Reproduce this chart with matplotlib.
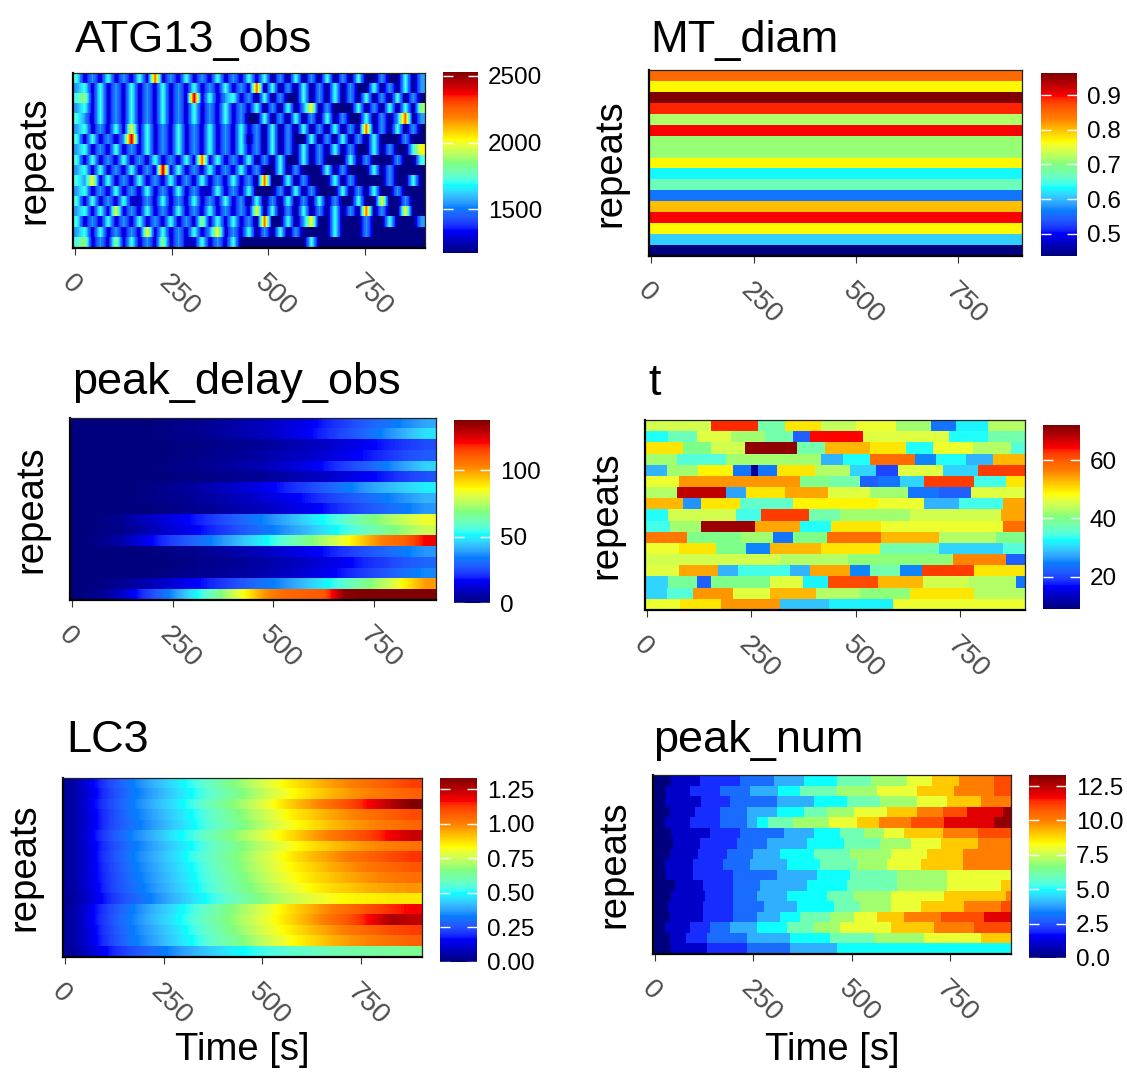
import numpy as np
import matplotlib
matplotlib.use("Agg")
import matplotlib.pyplot as plt
from matplotlib.colors import ListedColormap, Normalize, to_rgb
from matplotlib.cm import ScalarMappable

plt.rcParams['font.family'] = ['Liberation Sans', 'DejaVu Sans']

# ---------------- data (rows listed top to bottom, 17 repeats) ----------------
T_START, T_END = -5, 905          # time range shown on the x axis [s]
time_ticks = [0, 250, 500, 750]

# ATG13_obs: level code per 20 s bin, code -> intensity
atg13_levels = {'0': 1180, '1': 1270, '2': 1550, '3': 1720, '4': 1880,
                '5': 2020, '6': 2250, '7': 2450}
atg13_rows = [
    "31213 12131 61213 12131 21313 02030 20302 03002 00302",
    "23131 21312 13121 31213 12160 30203 02030 20030 20302",
    "34131 21312 13121 71312 31203 02003 02030 20302 03020",
    "23131 21312 13121 31213 12130 20302 50200 03020 30304",
    "32131 21312 13121 31213 12003 02030 20302 00302 02602",
    "23121 31513 12131 21312 13120 30203 02030 20602 03020",
    "31312 12713 12131 21312 13020 30200 30203 02030 00200",
    "23121 31213 12131 21312 13120 30203 02030 20030 20035",
    "31312 13121 31213 16131 21302 03003 02000 30200 02003",
    "23131 21312 17131 21312 13120 03020 00302 00030 20000",
    "32513 12131 21312 13121 31206 00302 00030 20000 20030",
    "23121 31213 12131 21131 21300 02030 20003 02030 02000",
    "31312 13112 13121 31213 12030 20302 03020 03005 00200",
    "23131 51213 12131 21312 12150 30203 02030 20602 00500",
    "31213 12131 21312 14131 31206 00302 50030 00200 30002",
    "23131 21215 13121 31251 21302 03020 00030 00200 00000",
    "34121 41312 14121 13121 30000 00000 30000 00000 00000",
]

# MT_diam: one value per repeat
mt_diam = [0.85, 0.77, 0.964, 0.89, 0.72, 0.90, 0.71, 0.71, 0.77,
           0.63, 0.67, 0.56, 0.80, 0.90, 0.77, 0.61, 0.436]

# peak_delay_obs: values at t = 25, 75, ..., 875 s
peak_delay = [
    [0, 0, 0, 0, 1, 2, 3, 5, 7, 9, 12, 15, 19, 23, 28, 32, 36, 40],
    [0, 0, 0, 0, 1, 2, 3, 5, 7, 9, 12, 16, 20, 25, 30, 36, 42, 48],
    [0, 0, 0, 0, 0, 1, 1, 2, 3, 4, 6, 8, 10, 13, 16, 19, 22, 25],
    [0, 0, 0, 0, 0, 1, 2, 3, 4, 6, 8, 10, 12, 15, 18, 21, 25, 28],
    [0, 0, 0, 0, 1, 2, 3, 4, 6, 8, 11, 14, 18, 23, 28, 34, 40, 46],
    [0, 0, 0, 0, 0, 1, 1, 2, 3, 4, 6, 8, 10, 13, 16, 19, 23, 26],
    [0, 0, 0, 1, 2, 4, 6, 9, 12, 15, 19, 23, 28, 33, 38, 42, 46, 50],
    [0, 0, 0, 1, 2, 3, 5, 7, 9, 12, 15, 18, 22, 26, 30, 34, 38, 42],
    [0, 0, 0, 0, 1, 2, 3, 5, 7, 9, 12, 15, 18, 22, 26, 30, 34, 38],
    [0, 1, 3, 8, 12, 16, 20, 25, 30, 35, 40, 46, 52, 58, 66, 72, 78, 84],
    [0, 1, 2, 6, 10, 14, 18, 22, 27, 32, 37, 42, 48, 54, 60, 66, 72, 78],
    [0, 2, 6, 14, 20, 26, 32, 38, 44, 50, 58, 66, 74, 84, 95, 105, 110, 122],
    [0, 0, 0, 0, 1, 2, 3, 5, 7, 9, 12, 15, 18, 22, 26, 30, 34, 38],
    [0, 0, 0, 0, 0, 1, 2, 3, 4, 6, 8, 10, 13, 16, 20, 23, 27, 30],
    [0, 0, 0, 0, 1, 2, 3, 4, 5, 7, 9, 12, 15, 19, 23, 27, 32, 36],
    [0, 1, 3, 6, 10, 14, 18, 22, 27, 32, 37, 43, 50, 58, 67, 76, 88, 100],
    [0, 3, 10, 20, 30, 42, 55, 70, 85, 100, 108, 110, 112, 136, 138, 138, 138, 138],
]

# t: piecewise constant segments (change times [s], values)
t_edges = [
    [152, 266, 330, 417, 501, 597, 680, 740, 816],
    [51, 119, 202, 282, 350, 391, 517, 724, 816],
    [87, 154, 234, 358, 425, 533, 621, 684, 780, 872],
    [71, 190, 417, 469, 533, 641, 692, 764, 828],
    [47, 123, 206, 250, 266, 310, 401, 485, 549, 601, 708, 792],
    [77, 366, 437, 509, 553, 605, 662, 784, 860],
    [71, 190, 238, 330, 433, 533, 625, 700, 776],
    [87, 130, 222, 350, 553, 664, 748, 852],
    [51, 214, 272, 388, 461, 629, 848],
    [55, 130, 258, 366, 440, 561, 852],
    [95, 226, 302, 350, 431, 561, 700, 836],
    [77, 166, 238, 295, 417, 558, 700, 852],
    [318, 481, 732, 860],
    [77, 170, 218, 342, 390, 487, 533, 605, 659, 784],
    [51, 120, 152, 294, 374, 433, 553, 660, 772, 884],
    [47, 111, 206, 294, 404, 509, 629, 784],
    [79, 178, 318, 436, 589],
]
t_values = [
    [45, 63, 38, 50, 44, 47, 42, 24, 32, 43],
    [33, 37, 46, 42, 38, 22, 64, 46, 33, 38],
    [50, 40, 45, 71, 38, 53, 50, 33, 47, 43, 35],
    [42, 35, 42, 28, 33, 58, 25, 33, 28, 53],
    [28, 42, 49, 24, 10, 24, 50, 43, 30, 20, 46, 30, 62],
    [47, 55, 40, 38, 22, 24, 30, 62, 34, 50],
    [43, 68, 27, 50, 54, 46, 42, 24, 22, 46],
    [53, 26, 50, 36, 49, 47, 28, 34, 54],
    [33, 45, 34, 62, 38, 42, 45, 54],
    [34, 42, 70, 54, 33, 50, 47, 58],
    [57, 40, 42, 24, 40, 58, 53, 43, 40],
    [47, 50, 40, 25, 53, 50, 38, 30, 35],
    [45, 43, 41, 56, 22],
    [46, 54, 28, 34, 28, 54, 25, 38, 25, 62, 50],
    [30, 39, 22, 40, 46, 32, 61, 53, 45, 43, 24],
    [30, 35, 55, 46, 53, 43, 41, 50, 43],
    [47, 50, 55, 29, 32, 47],
]

# LC3: values at t = 25, 75, ..., 875 s
lc3 = [
    [0.05, 0.16, 0.25, 0.33, 0.40, 0.46, 0.52, 0.59, 0.66, 0.73, 0.80, 0.86, 0.91, 0.96, 1.00, 1.04, 1.08, 1.12],
    [0.05, 0.15, 0.24, 0.32, 0.38, 0.44, 0.50, 0.57, 0.63, 0.70, 0.77, 0.83, 0.88, 0.93, 0.97, 1.00, 1.03, 1.06],
    [0.05, 0.16, 0.25, 0.33, 0.40, 0.46, 0.53, 0.60, 0.67, 0.74, 0.82, 0.90, 0.97, 1.04, 1.11, 1.18, 1.26, 1.33],
    [0.05, 0.15, 0.24, 0.32, 0.38, 0.44, 0.50, 0.57, 0.64, 0.71, 0.78, 0.85, 0.90, 0.95, 0.99, 1.03, 1.07, 1.10],
    [0.05, 0.15, 0.24, 0.31, 0.37, 0.43, 0.49, 0.56, 0.62, 0.69, 0.76, 0.82, 0.87, 0.92, 0.96, 0.99, 1.02, 1.05],
    [0.05, 0.16, 0.26, 0.34, 0.40, 0.47, 0.53, 0.60, 0.67, 0.74, 0.81, 0.88, 0.95, 1.01, 1.07, 1.12, 1.18, 1.23],
    [0.05, 0.15, 0.24, 0.32, 0.38, 0.44, 0.50, 0.57, 0.63, 0.70, 0.76, 0.82, 0.87, 0.91, 0.95, 0.98, 1.00, 1.02],
    [0.05, 0.15, 0.25, 0.33, 0.39, 0.45, 0.52, 0.58, 0.65, 0.72, 0.79, 0.86, 0.92, 0.97, 1.02, 1.06, 1.10, 1.13],
    [0.05, 0.15, 0.24, 0.32, 0.38, 0.44, 0.50, 0.57, 0.64, 0.71, 0.78, 0.84, 0.89, 0.94, 0.98, 1.02, 1.05, 1.08],
    [0.05, 0.15, 0.23, 0.31, 0.37, 0.43, 0.49, 0.56, 0.62, 0.69, 0.76, 0.82, 0.87, 0.91, 0.95, 0.98, 1.01, 1.03],
    [0.05, 0.14, 0.23, 0.30, 0.36, 0.42, 0.48, 0.55, 0.61, 0.67, 0.73, 0.79, 0.84, 0.88, 0.91, 0.94, 0.96, 0.97],
    [0.04, 0.13, 0.21, 0.28, 0.34, 0.40, 0.46, 0.52, 0.58, 0.64, 0.70, 0.75, 0.79, 0.82, 0.84, 0.85, 0.86, 0.86],
    [0.05, 0.16, 0.25, 0.33, 0.40, 0.46, 0.53, 0.60, 0.67, 0.74, 0.81, 0.88, 0.94, 1.00, 1.05, 1.10, 1.14, 1.17],
    [0.05, 0.16, 0.26, 0.34, 0.41, 0.47, 0.54, 0.61, 0.68, 0.75, 0.82, 0.89, 0.96, 1.03, 1.10, 1.18, 1.27, 1.24],
    [0.05, 0.15, 0.25, 0.33, 0.39, 0.45, 0.52, 0.59, 0.66, 0.73, 0.80, 0.86, 0.92, 0.97, 1.02, 1.06, 1.10, 1.12],
    [0.05, 0.15, 0.24, 0.32, 0.38, 0.44, 0.50, 0.57, 0.63, 0.70, 0.77, 0.83, 0.88, 0.93, 0.97, 1.00, 1.03, 1.06],
    [0.04, 0.12, 0.19, 0.25, 0.30, 0.35, 0.40, 0.44, 0.48, 0.51, 0.54, 0.56, 0.58, 0.60, 0.61, 0.62, 0.63, 0.64],
]

# peak_num: times [s] at which a new peak is counted
peak_times = [
    [42, 114, 216, 302, 378, 463, 548, 641, 705, 773, 862],
    [29, 89, 165, 242, 314, 369, 463, 565, 667, 760, 862],
    [25, 118, 191, 310, 403, 488, 573, 667, 743, 828],
    [38, 101, 165, 233, 310, 378, 437, 505, 590, 667, 731, 794, 884],
    [25, 89, 165, 233, 259, 288, 352, 442, 514, 569, 650, 735, 862],
    [42, 140, 216, 327, 403, 471, 531, 582, 633, 731, 820],
    [46, 114, 208, 284, 386, 480, 573, 650, 726, 820],
    [38, 110, 182, 250, 318, 403, 497, 599, 692, 782],
    [25, 97, 174, 242, 335, 420, 514, 590, 675, 782],
    [29, 97, 199, 310, 412, 497, 616, 743],
    [50, 123, 199, 267, 386, 488, 616, 743, 880],
    [42, 127, 199, 259, 335, 437, 505, 599, 735, 892],
    [33, 123, 199, 276, 361, 454, 522, 599, 675, 786, 880],
    [38, 123, 199, 259, 318, 369, 446, 505, 565, 633, 726, 837],
    [25, 89, 140, 191, 259, 335, 403, 471, 599, 709, 811],
    [38, 80, 131, 233, 344, 446, 556, 684, 828],
    [42, 131, 233, 344, 463],
]

# ---------------- colour map: jet anchors blended in CIELAB ----------------
jet_anchors = ["#00007F", "blue", "#007FFF", "cyan", "#7FFF7F",
               "yellow", "#FF7F00", "red", "#7F0000"]
_M = np.array([[0.4124564, 0.3575761, 0.1804375],
               [0.2126729, 0.7151522, 0.0721750],
               [0.0193339, 0.1191920, 0.9503041]])
_WHITE = np.array([0.95047, 1.0, 1.08883])


def rgb_to_lab(rgb):
    rgb = np.asarray(rgb, dtype=float)
    lin = np.where(rgb <= 0.04045, rgb / 12.92, ((rgb + 0.055) / 1.055) ** 2.4)
    xyz = lin @ _M.T / _WHITE
    d = 6 / 29
    f = np.where(xyz > d ** 3, np.cbrt(xyz), xyz / (3 * d * d) + 4 / 29)
    return np.stack([116 * f[..., 1] - 16, 500 * (f[..., 0] - f[..., 1]),
                     200 * (f[..., 1] - f[..., 2])], axis=-1)


def lab_to_rgb(lab):
    d = 6 / 29
    fy = (lab[..., 0] + 16) / 116
    f = np.stack([fy + lab[..., 1] / 500, fy, fy - lab[..., 2] / 200], axis=-1)
    xyz = np.where(f > d, f ** 3, 3 * d * d * (f - 4 / 29)) * _WHITE
    lin = np.clip(xyz @ np.linalg.inv(_M).T, 0, 1)
    rgb = np.where(lin <= 0.0031308, 12.92 * lin, 1.055 * lin ** (1 / 2.4) - 0.055)
    return np.clip(rgb, 0, 1)


anchor_lab = rgb_to_lab([to_rgb(c) for c in jet_anchors])
pos = np.linspace(0, 1, 256)
lab_cols = np.stack([np.interp(pos, np.linspace(0, 1, len(jet_anchors)), anchor_lab[:, k])
                     for k in range(3)], axis=-1)
jet = ListedColormap(lab_to_rgb(lab_cols), name='jet_lab')

# ---------------- figure ----------------
W, H = 1127, 1073
fig = plt.figure(figsize=(W / 100, H / 100), dpi=100)
fig.patch.set_facecolor('white')
N_REP = len(mt_diam)


def px_rect(x0, x1, y0, y1):
    return [x0 / W, 1 - y1 / H, (x1 - x0) / W, (y1 - y0) / H]


def row_y(i):
    # row i (0 = top) -> y span
    return N_REP - 1 - i, N_REP - i


def smooth_rows(ax, rows, norm):
    for i, vals in enumerate(rows):
        y0, y1 = row_y(i)
        ax.imshow(np.array(vals, dtype=float)[np.newaxis, :], cmap=jet, norm=norm,
                  extent=(T_START, T_END, y0, y1), aspect='auto',
                  interpolation='bilinear', interpolation_stage='data')
    ax.set_xlim(T_START, T_END)
    ax.set_ylim(0, N_REP)


def step_rows(ax, edges_list, values_list, norm):
    for i, (edges, vals) in enumerate(zip(edges_list, values_list)):
        y0, y1 = row_y(i)
        xe = [T_START] + list(edges) + [T_END]
        ax.pcolormesh(xe, [y0, y1], np.array(vals, dtype=float)[np.newaxis, :],
                      cmap=jet, norm=norm, shading='flat', antialiased=False,
                      edgecolors='none', linewidth=0)


def panel(plot_box, cbar_box, title, title_pos, vmin, vmax, ticks, fmt, xlabel=False):
    ax = fig.add_axes(px_rect(*plot_box))
    cax = fig.add_axes(px_rect(*cbar_box))
    norm = Normalize(vmin, vmax)

    ax.set_xlim(T_START, T_END)
    ax.set_ylim(0, N_REP)
    ax.set_yticks([])
    ax.set_xticks(time_ticks)
    ax.set_xticklabels([str(t) for t in time_ticks])
    ax.tick_params(axis='x', length=5, width=0.8, color='#333333', pad=11,
                   labelsize=20, labelcolor='#4D4D4D')
    for lab in ax.get_xticklabels():
        lab.set_rotation(-45)
        lab.set_rotation_mode('anchor')
        lab.set_ha('left')
        lab.set_va('top')
    for side in ['left', 'bottom']:
        ax.spines[side].set_linewidth(1.6)
        ax.spines[side].set_color('black')
    for side in ['top', 'right']:
        ax.spines[side].set_linewidth(0.9)
        ax.spines[side].set_color('#222222')

    cb = fig.colorbar(ScalarMappable(norm=norm, cmap=jet), cax=cax, ticks=ticks)
    cb.outline.set_visible(False)
    cb.ax.tick_params(direction='in', length=7, width=1, color='white',
                      left=True, right=True, labelsize=17.5, labelcolor='black', pad=7)
    cb.ax.set_yticklabels([fmt.format(t) for t in ticks])

    x0, x1, y0, y1 = plot_box
    fig.text(title_pos[0] / W, 1 - title_pos[1] / H, title, fontsize=32.5,
             ha='left', va='baseline', color='black')
    fig.text((x0 - 39) / W, 1 - (y0 + y1) / 2 / H, 'repeats', fontsize=27.5,
             rotation=90, ha='center', va='center', color='black')
    if xlabel:
        fig.text((x0 + x1) / 2 / W, 1 - 1060 / H, 'Time [s]', fontsize=27.5,
                 ha='center', va='baseline', color='black')
    return ax, norm


# ATG13_obs
ax, norm = panel((73, 425, 73, 248), (443, 478, 72, 253), 'ATG13_obs', (75, 52),
                 1170, 2530, [1500, 2000, 2500], '{:.0f}')
atg13 = [[atg13_levels[c] for c in r.replace(' ', '')] for r in atg13_rows]
smooth_rows(ax, atg13, norm)

# MT_diam
ax, norm = panel((649, 1022, 70, 256), (1041, 1077, 73, 256), 'MT_diam', (650, 52),
                 0.436, 0.964, [0.5, 0.6, 0.7, 0.8, 0.9], '{:.1f}')
ax.pcolormesh([T_START, T_END], np.arange(N_REP + 1),
              np.array(mt_diam[::-1])[:, np.newaxis], cmap=jet, norm=norm,
              shading='flat', antialiased=False, edgecolors='none', linewidth=0)

# peak_delay_obs
ax, norm = panel((70, 436, 418, 600), (454, 490, 420, 603), 'peak_delay_obs', (72, 394),
                 0, 138, [0, 50, 100], '{:.0f}')
smooth_rows(ax, peak_delay, norm)

# t
ax, norm = panel((645, 1025, 420, 610), (1043, 1080, 425, 609), 't', (648, 395),
                 9, 72, [20, 40, 60], '{:.0f}')
step_rows(ax, t_edges, t_values, norm)

# LC3
ax, norm = panel((63, 422, 778, 957), (440, 477, 778, 962), 'LC3', (66, 752),
                 0, 1.33, [0, 0.25, 0.5, 0.75, 1.0, 1.25], '{:.2f}', xlabel=True)
smooth_rows(ax, lc3, norm)

# peak_num
ax, norm = panel((653, 1011, 775, 954), (1029, 1066, 775, 958), 'peak_num', (653, 752),
                 0, 13.3, [0, 2.5, 5, 7.5, 10, 12.5], '{:.1f}', xlabel=True)
step_rows(ax, peak_times, [list(range(len(p) + 1)) for p in peak_times], norm)

fig.savefig('out.png', dpi=100, facecolor='white')
